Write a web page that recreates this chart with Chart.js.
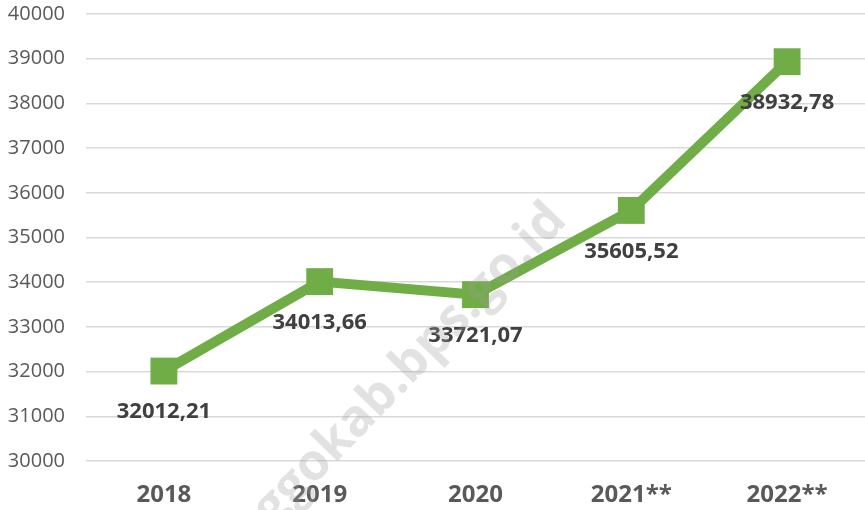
<!DOCTYPE html>
<html lang="id">
<head>
    <meta charset="UTF-8">
    <title>Grafik 2018-2022</title>
    <script src="https://cdn.jsdelivr.net/npm/chart.js"></script>
    <style>
        html, body { margin: 0; padding: 0; background: #ffffff; overflow: hidden; }
        .chart-container { width: 865px; height: 510px; position: relative; }
    </style>
</head>
<body>
    <div class="chart-container">
        <canvas id="myChart"></canvas>
    </div>

    <script>
        // data
        const years = ['2018', '2019', '2020', '2021**', '2022**'];
        const values = [32012.21, 34013.66, 33721.07, 35605.52, 38932.78];
        const yMin = 30000;
        const yMax = 40000;
        const yStep = 1000;

        const green = '#70AD47';

        // value labels under each point, written with a decimal comma
        const pointLabels = {
            id: 'pointLabels',
            afterDatasetsDraw(chart) {
                const ctx = chart.ctx;
                const meta = chart.getDatasetMeta(0);
                ctx.save();
                ctx.font = 'bold 22px "Open Sans", sans-serif';
                ctx.fillStyle = '#404040';
                ctx.textAlign = 'center';
                ctx.textBaseline = 'middle';
                meta.data.forEach((pt, i) => {
                    const txt = values[i].toFixed(2).replace('.', ',');
                    ctx.fillText(txt, pt.x, pt.y + 41);
                });
                ctx.restore();
            }
        };

        // faint diagonal watermark
        const watermark = {
            id: 'watermark',
            afterDraw(chart) {
                const ctx = chart.ctx;
                ctx.save();
                ctx.translate(558, 212);
                ctx.rotate(-46 * Math.PI / 180);
                ctx.font = 'bold 51px "Open Sans", sans-serif';
                ctx.fillStyle = 'rgba(160, 160, 160, 0.3)';
                ctx.textAlign = 'right';
                ctx.textBaseline = 'middle';
                ctx.fillText('inggokab.bps.go.id', 0, 0);
                ctx.restore();
            }
        };

        const ctx = document.getElementById('myChart').getContext('2d');
        new Chart(ctx, {
            type: 'line',
            data: {
                labels: years,
                datasets: [{
                    data: values,
                    borderColor: green,
                    backgroundColor: green,
                    borderWidth: 10,
                    pointStyle: 'rect',
                    pointRadius: 19,
                    pointHoverRadius: 19,
                    pointBorderWidth: 0,
                    tension: 0,
                    fill: false,
                    clip: false
                }]
            },
            options: {
                responsive: true,
                maintainAspectRatio: false,
                animation: false,
                layout: { autoPadding: false, padding: { top: 14, right: 0, left: 0, bottom: 0 } },
                plugins: {
                    legend: { display: false },
                    tooltip: { enabled: false }
                },
                scales: {
                    x: {
                        offset: true,
                        grid: { display: false, drawTicks: false },
                        border: { display: false },
                        ticks: {
                            color: '#595959',
                            font: { family: '"Open Sans", sans-serif', size: 24, weight: 'bold' },
                            padding: 20,
                            maxRotation: 0
                        },
                        afterFit(scale) {
                            scale.height = 49;
                            scale.paddingLeft = 0;
                            scale.paddingRight = 0;
                        }
                    },
                    y: {
                        min: yMin,
                        max: yMax,
                        ticks: {
                            stepSize: yStep,
                            color: '#595959',
                            font: { family: '"Open Sans", sans-serif', size: 20 },
                            padding: 21,
                            callback: (v) => String(v)
                        },
                        grid: { color: '#d9d9d9', lineWidth: 1.5, drawTicks: false },
                        border: { display: false },
                        afterFit(scale) {
                            scale.width = 86;
                            scale.paddingTop = 0;
                            scale.paddingBottom = 0;
                        }
                    }
                }
            },
            plugins: [pointLabels, watermark]
        });
    </script>
</body>
</html>
